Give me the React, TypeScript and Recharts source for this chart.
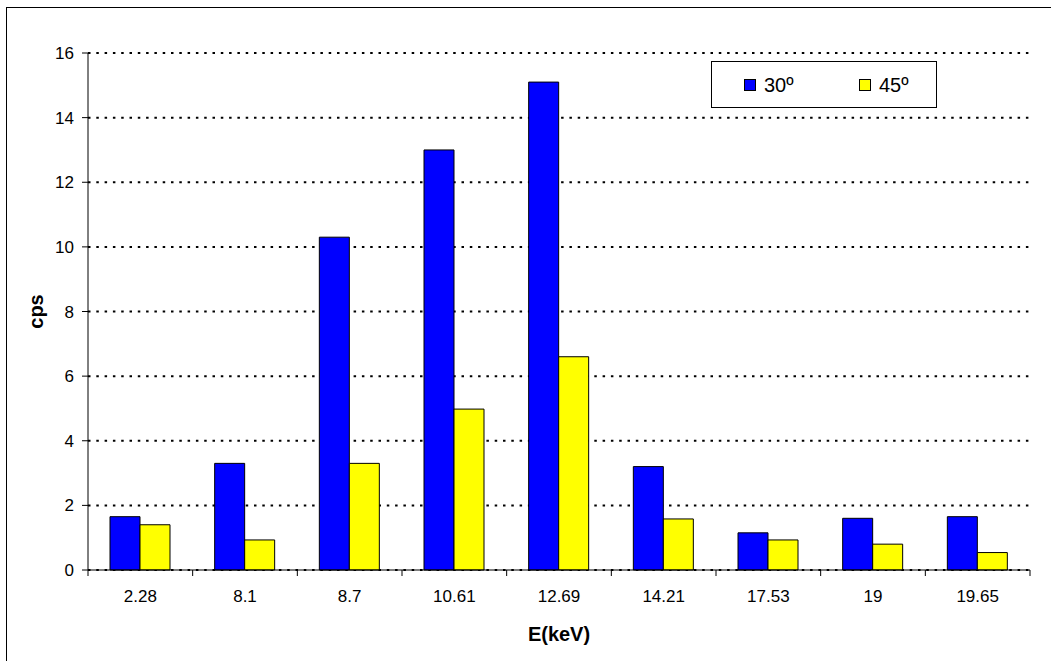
import React from "react";
import { BarChart, Bar, XAxis, YAxis, CartesianGrid, Legend } from "recharts";

const categories = ["2.28", "8.1", "8.7", "10.61", "12.69", "14.21", "17.53", "19", "19.65"];
const series30 = [1.65, 3.3, 10.3, 13.0, 15.1, 3.2, 1.15, 1.6, 1.65];
const series45 = [1.4, 0.93, 3.3, 4.98, 6.6, 1.58, 0.93, 0.8, 0.54];
const yTicks = [0, 2, 4, 6, 8, 10, 12, 14, 16];
const seriesNames = ["30º", "45º"];

const data = categories.map((c, i) => ({ e: c, s30: series30[i], s45: series45[i] }));

const FONT = "'Liberation Sans', Arial, Helvetica, sans-serif";
const TICK_SIZE = 6;
const TICK_MARGIN = 2;

const XTick = (props: any) => {
  const { x, y, payload, index, visibleTicksCount } = props;
  const off = payload && typeof payload.offset === "number" ? payload.offset : 0;
  const y1 = y - TICK_SIZE - TICK_MARGIN;
  const y2 = y - TICK_MARGIN;
  const last = index === visibleTicksCount - 1;
  return (
    <g>
      <line x1={x - off} x2={x - off} y1={y1} y2={y2} stroke="#000" strokeWidth={1} />
      {last && <line x1={x + off} x2={x + off} y1={y1} y2={y2} stroke="#000" strokeWidth={1} />}
      <text x={x} y={y + 24} textAnchor="middle" fontSize={17} fontFamily={FONT} fill="#000">
        {payload.value}
      </text>
    </g>
  );
};

const YTitle = (props: any) => {
  const vb = props.viewBox || { x: 0, y: 0, width: 0, height: 0 };
  const cx = vb.x + 36;
  const cy = vb.y + vb.height / 2;
  return (
    <text
      x={cx}
      y={cy}
      transform={`rotate(-90 ${cx} ${cy})`}
      textAnchor="middle"
      dominantBaseline="central"
      fontSize={20}
      fontWeight="bold"
      fontFamily={FONT}
      fill="#000"
    >
      cps
    </text>
  );
};

const XTitle = (props: any) => {
  const vb = props.viewBox || { x: 0, y: 0, width: 0, height: 0 };
  const cx = vb.x + vb.width / 2;
  return (
    <text x={cx} y={vb.y + 71} textAnchor="middle" fontSize={20} fontWeight="bold" fontFamily={FONT} fill="#000">
      E(keV)
    </text>
  );
};

const LegendBox = (props: any) => {
  const payload = props.payload || [];
  const lefts = [32, 147];
  return (
    <div
      style={{
        width: 226,
        height: 47,
        boxSizing: "border-box",
        border: "1px solid #000",
        background: "#fff",
        position: "relative",
        fontFamily: FONT,
        fontSize: 20,
        color: "#000",
      }}
    >
      {payload.map((p: any, i: number) => (
        <div
          key={i}
          style={{
            position: "absolute",
            left: lefts[i],
            top: 0,
            height: 45,
            display: "flex",
            alignItems: "center",
          }}
        >
          <span
            style={{
              display: "inline-block",
              width: 12,
              height: 12,
              boxSizing: "border-box",
              background: p.color,
              border: "1px solid #000",
              marginRight: 8,
            }}
          />
          <span style={{ lineHeight: "20px" }}>{p.value}</span>
        </div>
      ))}
    </div>
  );
};

export default function App() {
  return (
    <div style={{ position: "absolute", left: 0, top: 0, width: 1051, height: 661, overflow: "hidden", background: "#fff" }}>
      <div
        style={{
          position: "absolute",
          left: 6,
          top: 7,
          width: 1100,
          height: 700,
          borderLeft: "1px solid #000",
          borderTop: "1px solid #000",
        }}
      />
      <div style={{ position: "absolute", left: 0, top: 0 }}>
        <BarChart
          width={1051}
          height={661}
          data={data}
          margin={{ top: 53, right: 21, bottom: 0, left: 0 }}
          barSize={30}
          barGap={0}
        >
          <CartesianGrid horizontal vertical={false} stroke="#000" strokeWidth={2} strokeDasharray="2.5 5.8" />
          <XAxis
            dataKey="e"
            height={91}
            interval={0}
            tickSize={TICK_SIZE}
            tickMargin={TICK_MARGIN}
            tickLine={false}
            axisLine={{ stroke: "#000", strokeWidth: 1 }}
            tick={<XTick />}
            label={<XTitle />}
          />
          <YAxis
            width={88}
            domain={[0, 16]}
            ticks={yTicks}
            interval={0}
            tickSize={TICK_SIZE}
            tickMargin={8}
            axisLine={{ stroke: "#000", strokeWidth: 1 }}
            tickLine={{ stroke: "#000", strokeWidth: 1 }}
            tick={{ fontSize: 17, fontFamily: FONT, fill: "#000" }}
            label={<YTitle />}
          />
          <Legend
            layout="horizontal"
            verticalAlign="middle"
            align="center"
            wrapperStyle={{ left: 711, top: 61, width: 226, height: 47 }}
            content={<LegendBox />}
          />
          <Bar dataKey="s30" name={seriesNames[0]} fill="#0000FF" stroke="#000" strokeWidth={1} isAnimationActive={false} />
          <Bar dataKey="s45" name={seriesNames[1]} fill="#FFFF00" stroke="#000" strokeWidth={1} isAnimationActive={false} />
        </BarChart>
      </div>
    </div>
  );
}
